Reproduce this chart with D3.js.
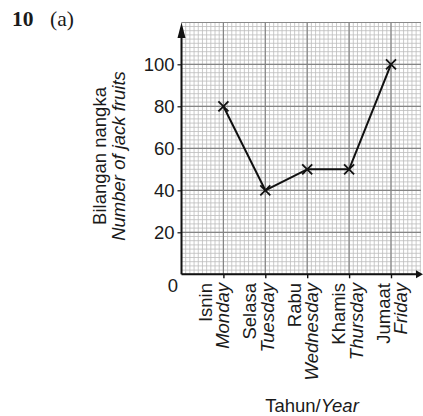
<!DOCTYPE html>
<html>
<head>
<meta charset="utf-8">
<script src="https://cdn.jsdelivr.net/npm/d3@7"></script>
<style>
  html, body { margin: 0; padding: 0; background: #fff; }
  svg { display: block; }
  text { font-family: "Liberation Sans", Arial, Helvetica, sans-serif; fill: #1a1a1a; }
  text.serif { font-family: "Liberation Serif", "Times New Roman", serif; }
</style>
</head>
<body>
<svg id="chart" width="423" height="416"></svg>
<script>
const malayDays = ["Isnin", "Selasa", "Rabu", "Khamis", "Jumaat"];
const englishDays = ["Monday", "Tuesday", "Wednesday", "Thursday", "Friday"];
const values = [80, 40, 50, 50, 100];
const yTicks = [20, 40, 60, 80, 100];
const dayIndex = [1, 2, 3, 4, 5];

const svg = d3.select("#chart");

const x0 = 181.5, unitX = 41.9;
const x = d3.scaleLinear().domain([0, 6]).range([x0, x0 + 6 * unitX]);
const y = d3.scaleLinear().domain([0, 120]).range([274.3, 22.3]);
// label position scale (labels are spaced slightly wider than the ticks)
const labelX = d3.scaleLinear().domain([1, 5]).range([211.7, 389.8]);

const gridRight = 421;

svg.append("defs").append("clipPath").attr("id", "gclip")
  .append("rect").attr("x", x0).attr("y", y(120)).attr("width", gridRight - x0).attr("height", y(0) - y(120));

const grid = svg.append("g").attr("clip-path", "url(#gclip)");
// minor grid
const minorX = d3.range(0, 6.001, 0.1);
const minorY = d3.range(0, 120.001, 2);
grid.selectAll("line.mx").data(minorX).join("line")
  .attr("x1", d => x(d)).attr("x2", d => x(d)).attr("y1", y(0)).attr("y2", y(120))
  .attr("stroke", "#bdbdbd").attr("stroke-width", 0.8);
grid.selectAll("line.my").data(minorY).join("line")
  .attr("x1", x(0)).attr("x2", gridRight).attr("y1", d => y(d)).attr("y2", d => y(d))
  .attr("stroke", "#bdbdbd").attr("stroke-width", 0.8);
// major grid
grid.selectAll("line.Mx").data(d3.range(0, 7, 1)).join("line")
  .attr("x1", d => x(d)).attr("x2", d => x(d)).attr("y1", y(0)).attr("y2", y(120))
  .attr("stroke", "#858585").attr("stroke-width", 1.2);
grid.selectAll("line.My").data(d3.range(0, 121, 20)).join("line")
  .attr("x1", x(0)).attr("x2", gridRight).attr("y1", d => y(d)).attr("y2", d => y(d))
  .attr("stroke", "#858585").attr("stroke-width", 1.2);
grid.append("line").attr("x1", x(0)).attr("x2", gridRight).attr("y1", y(120)).attr("y2", y(120))
  .attr("stroke", "#858585").attr("stroke-width", 1.2);

// axes
const yAxis = d3.axisLeft(y).tickValues(yTicks).tickSize(4).tickPadding(3).tickFormat(d3.format("d"));
const gy = svg.append("g").attr("transform", `translate(${x0},0)`).call(yAxis);
gy.select(".domain").remove();
gy.selectAll(".tick line").attr("stroke", "#111").attr("stroke-width", 1.2);
gy.selectAll(".tick text").style("font-size", "18.5px").style("fill", "#1a1a1a");

const xAxis = d3.axisBottom(x).tickValues(dayIndex).tickSize(4).tickFormat("");
const gx = svg.append("g").attr("transform", `translate(0,${y(0)})`).call(xAxis);
gx.select(".domain").remove();
gx.selectAll(".tick line").attr("stroke", "#111").attr("stroke-width", 1.4);

// axis lines with arrows
svg.append("line").attr("x1", x0).attr("x2", x0).attr("y1", y(0)).attr("y2", 34)
  .attr("stroke", "#111").attr("stroke-width", 2);
svg.append("path").attr("d", `M${x0},22.5 L${x0 - 4},38 L${x0 + 4},38 Z`).attr("fill", "#111");
svg.append("line").attr("x1", x0).attr("x2", 418).attr("y1", y(0)).attr("y2", y(0))
  .attr("stroke", "#111").attr("stroke-width", 2);
svg.append("path").attr("d", `M423,${y(0)} L416,${y(0) - 4} L416,${y(0) + 4} Z`).attr("fill", "#111");

// origin label
svg.append("text").attr("x", 178).attr("y", 291.5).attr("text-anchor", "end")
  .attr("font-size", "18.5px").text("0");

// data line
const pts = dayIndex.map((d, i) => [x(d), y(values[i])]);
svg.append("path").attr("d", d3.line()(pts)).attr("fill", "none")
  .attr("stroke", "#111").attr("stroke-width", 2).attr("stroke-linejoin", "round");
const s = 5;
svg.selectAll("path.mark").data(pts).join("path")
  .attr("d", p => `M${p[0] - s},${p[1] - s} L${p[0] + s},${p[1] + s} M${p[0] - s},${p[1] + s} L${p[0] + s},${p[1] - s}`)
  .attr("stroke", "#111").attr("stroke-width", 1.8).attr("fill", "none");

// x category labels (rotated)
const lab = svg.append("g");
dayIndex.forEach((d, i) => {
  const bx = labelX(d);
  lab.append("text").attr("transform", `translate(${bx},283) rotate(-90)`)
    .attr("text-anchor", "end").attr("font-size", "18.5px").text(malayDays[i]);
  lab.append("text").attr("transform", `translate(${bx + 17.5},283) rotate(-90)`)
    .attr("text-anchor", "end").attr("font-size", "18.5px").attr("font-style", "italic").text(englishDays[i]);
});

// x title
const xt = svg.append("text").attr("x", 312).attr("y", 411.5).attr("text-anchor", "middle").attr("font-size", "18.5px");
xt.append("tspan").text("Tahun/");
xt.append("tspan").attr("font-style", "italic").text("Year");

// y title
svg.append("text").attr("transform", "translate(106,156) rotate(-90)").attr("text-anchor", "middle")
  .attr("font-size", "18.5px").text("Bilangan nangka");
svg.append("text").attr("transform", "translate(125,156) rotate(-90)").attr("text-anchor", "middle")
  .attr("font-size", "18.5px").attr("font-style", "italic").text("Number of jack fruits");

// header
svg.append("text").attr("class", "serif").attr("x", 12).attr("y", 26)
  .attr("font-weight", "bold").attr("font-size", "21.5px").text("10");
svg.append("text").attr("class", "serif").attr("x", 50).attr("y", 26)
  .attr("font-size", "21.5px").text("(a)");
</script>
</body>
</html>
